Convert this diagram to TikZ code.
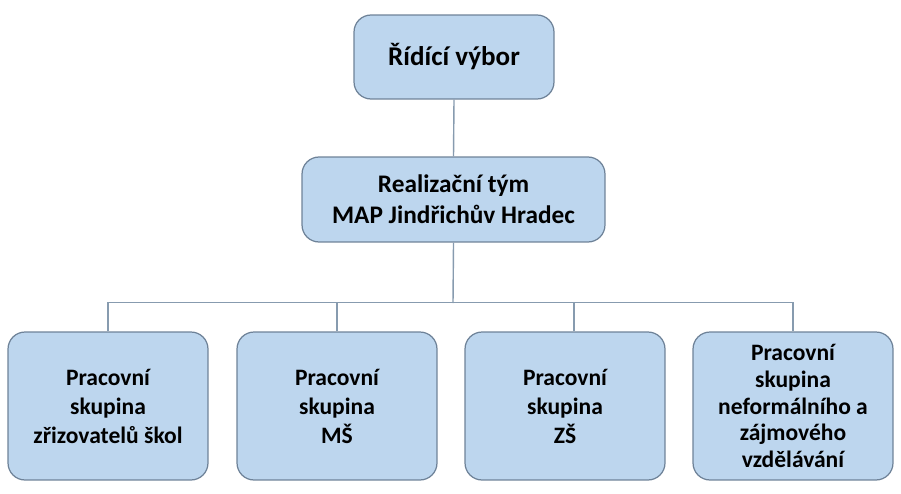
\documentclass[tikz,border=0pt]{standalone}
\usepackage{fontspec}
\setmainfont{Carlito}
\usetikzlibrary{positioning}
\definecolor{boxfill}{RGB}{189,214,238}
\definecolor{boxline}{RGB}{110,130,152}
\definecolor{conline}{RGB}{135,155,175}

\begin{document}
\begin{tikzpicture}[x=0.02cm,y=-0.02cm,
  box/.style={draw=boxline,line width=0.7pt,fill=boxfill,rounded corners=0.34cm,
    align=center,inner sep=0pt,font=\bfseries\fontsize{13.4}{16.5}\selectfont},
  group/.style={box,minimum width=4cm,minimum height=2.96cm},
  wire/.style={draw=conline,line width=0.8pt}]
  \useasboundingbox (0,0) rectangle (901,493);
  % vedení
  \node[box,minimum width=4cm,minimum height=1.68cm,
    font=\bfseries\fontsize{15.4}{18}\selectfont] (rv) at (454,57) {Řídící výbor};
  \node[box,minimum width=6.06cm,minimum height=1.7cm,
    font=\bfseries\fontsize{14.4}{17.5}\selectfont] (rt) at (453.5,199.5)
    {Realizační tým\\MAP Jindřichův Hradec};
  % pracovní skupiny
  \node[group] (pz) at (108,406) {Pracovní\\skupina\\zřizovatelů škol};
  \node[group] (pm) at (337,406) {Pracovní\\skupina\\MŠ};
  \node[group] (ps) at (565,406) {Pracovní\\skupina\\ZŠ};
  \node[group,font=\bfseries\fontsize{13.4}{15.2}\selectfont] (pn) at (793,406)
    {Pracovní\\skupina\\neformálního a\\zájmového\\vzdělávání};
  % spojnice
  \coordinate (bus) at (453,303);
  \draw[wire] (rv.south) -- (rt.north);
  \draw[wire] (rt.south) -- (bus);
  \draw[wire] (pz.north) -- ++(0,-29) -| (pn.north);
  \draw[wire] (pm.north) -- (pm.north |- bus);
  \draw[wire] ([xshift=0.18cm]ps.north) -- ++(0,-29);
\end{tikzpicture}
\end{document}
